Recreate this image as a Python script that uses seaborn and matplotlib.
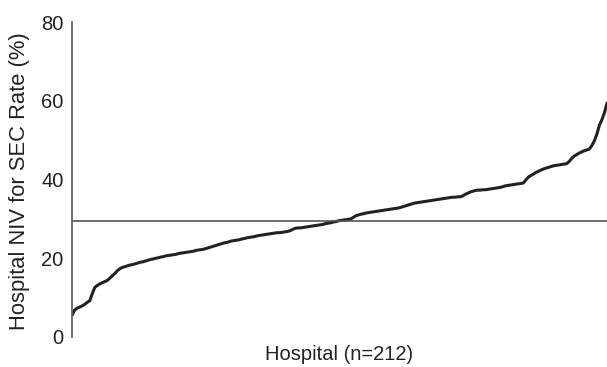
import matplotlib
matplotlib.use("Agg")
import matplotlib.pyplot as plt
import seaborn as sns
import pandas as pd
import numpy as np

# Sorted hospital NIV-for-SEC rates (%)
rates = [
    5.5, 6.8, 7.3, 7.6, 7.9, 8.3, 8.8, 9.2, 11.0, 12.6,
    13.1, 13.5, 13.8, 14.1, 14.4, 15.0, 15.6, 16.2, 16.9, 17.4,
    17.7, 17.9, 18.1, 18.3, 18.4, 18.6, 18.8, 19.0, 19.1, 19.3,
    19.5, 19.7, 19.8, 20.0, 20.1, 20.3, 20.4, 20.6, 20.7, 20.8,
    20.9, 21.0, 21.2, 21.3, 21.4, 21.5, 21.6, 21.7, 21.8, 22.0,
    22.1, 22.2, 22.3, 22.5, 22.7, 22.9, 23.1, 23.3, 23.5, 23.7,
    23.9, 24.0, 24.2, 24.4, 24.5, 24.6, 24.7, 24.9, 25.0, 25.2,
    25.3, 25.4, 25.5, 25.7, 25.8, 25.9, 26.0, 26.1, 26.2, 26.3,
    26.4, 26.5, 26.5, 26.6, 26.7, 26.8, 27.0, 27.3, 27.6, 27.7,
    27.7, 27.8, 27.9, 28.0, 28.1, 28.2, 28.3, 28.4, 28.5, 28.6,
    28.8, 28.9, 29.0, 29.2, 29.3, 29.5, 29.6, 29.7, 29.8, 29.9,
    30.0, 30.4, 30.8, 31.0, 31.2, 31.3, 31.5, 31.6, 31.7, 31.8,
    31.9, 32.0, 32.1, 32.2, 32.3, 32.4, 32.5, 32.6, 32.7, 32.8,
    33.0, 33.2, 33.4, 33.6, 33.8, 34.0, 34.1, 34.2, 34.3, 34.4,
    34.5, 34.6, 34.7, 34.8, 34.9, 35.0, 35.1, 35.2, 35.3, 35.4,
    35.5, 35.5, 35.6, 35.6, 35.8, 36.2, 36.5, 36.8, 37.0, 37.2,
    37.3, 37.3, 37.4, 37.4, 37.5, 37.6, 37.7, 37.8, 37.9, 38.0,
    38.2, 38.4, 38.5, 38.6, 38.7, 38.8, 38.9, 39.0, 39.1, 39.9,
    40.6, 41.0, 41.4, 41.8, 42.1, 42.4, 42.7, 42.9, 43.1, 43.3,
    43.5, 43.6, 43.7, 43.8, 43.9, 44.0, 44.5, 45.3, 45.9, 46.3,
    46.7, 47.0, 47.3, 47.5, 47.7, 48.6, 49.8, 51.5, 53.8, 55.2,
    57.0, 59.4,
]
mean_rate = 29.5
y_ticks = [0, 20, 40, 60, 80]
x_label = "Hospital (n=212)"
y_label = "Hospital NIV for SEC Rate (%)"

df = pd.DataFrame({"hospital": np.arange(len(rates)), "rate": rates})

sns.set_style("white")
plt.rcParams["font.family"] = ["Liberation Sans", "DejaVu Sans"]

fig = plt.figure(figsize=(6.07, 3.67), dpi=100)
ax = fig.add_axes([72 / 607, 1 - 337 / 367, 1 - 72 / 607, (337 - 22) / 367])

sns.lineplot(data=df, x="hospital", y="rate", ax=ax, color="#222222", linewidth=2.2)
ax.axhline(mean_rate, color="#555555", linewidth=1.2)

ax.set_xlim(0, len(rates) - 1)
ax.set_ylim(0, 80)
ax.set_yticks(y_ticks)
ax.set_xticks([])
ax.tick_params(axis="y", length=0, pad=6, labelsize=14.5, labelcolor="#222222")
ax.set_xlabel(x_label, fontsize=14.5, color="#222222", labelpad=6)
ax.set_ylabel(y_label, fontsize=15.8, color="#222222")
ax.yaxis.set_label_coords(-0.078, 0.494)

for s in ["top", "right", "bottom"]:
    ax.spines[s].set_visible(False)
ax.spines["left"].set_color("#666666")
ax.spines["left"].set_linewidth(1.3)

fig.savefig("out.png", dpi=100)
